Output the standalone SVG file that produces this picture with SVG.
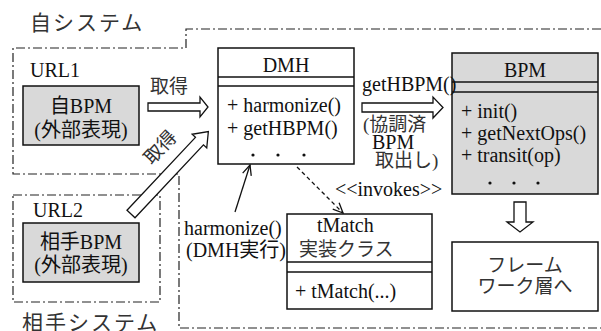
<svg xmlns="http://www.w3.org/2000/svg" width="601" height="331" viewBox="0 0 601 331" font-family="'Liberation Serif', 'DejaVu Serif', 'Noto Sans CJK JP', serif">
<style>
text{fill:#111;font-size:20px}
.jp{font-size:19px;fill:#333}
.sys{font-size:21px;letter-spacing:2px;fill:#333}
.dd{fill:none;stroke:#222;stroke-width:1.2;stroke-dasharray:9 3 2 3}
.box{fill:#fff;stroke:#111;stroke-width:1.5}
.gbox{fill:#d9d9d9;stroke:#111;stroke-width:1.5}
.blk{fill:#fff;stroke:#111;stroke-width:1.3}
.ln{stroke:#111;stroke-width:1.3;fill:none}
.dot{fill:#111}
</style>
<defs>
<marker id="v" markerWidth="12" markerHeight="10" refX="11" refY="5" orient="auto" markerUnits="userSpaceOnUse">
<path d="M1,0.5 L11,5 L1,9.5" fill="none" stroke="#111" stroke-width="1.3"/>
</marker>
</defs>

<g id="boundaries">
<path class="dd" d="M601,29 H186 V48 H13 V174 H179 V328 H601"/>
<rect class="dd" x="13" y="195" width="147" height="107"/>
<text class="sys" x="30" y="30">自システム</text>
<text class="sys" x="22" y="330">相手システム</text>
<text x="30" y="77" font-size="19">URL1</text>
<text x="33" y="217" font-size="19">URL2</text>
</g>

<g id="selfBPM">
<rect class="gbox" x="23" y="86" width="116" height="59"/>
<text x="81" y="113" text-anchor="middle" font-size="19">自BPM</text>
<text x="81" y="137" text-anchor="middle" font-size="19">(外部表現)</text>
</g>

<g id="otherBPM">
<rect class="gbox" x="23" y="223" width="116" height="59"/>
<text x="81" y="249" text-anchor="middle" font-size="19">相手BPM</text>
<text x="81" y="272" text-anchor="middle" font-size="19">(外部表現)</text>
</g>

<g id="DMH">
<rect class="box" x="218" y="48" width="136" height="116"/>
<line class="ln" x1="218" y1="77" x2="354" y2="77"/>
<line class="ln" x1="218" y1="86" x2="354" y2="86"/>
<text x="286" y="72" text-anchor="middle">DMH</text>
<text x="227" y="112">+ harmonize()</text>
<text x="227" y="135">+ getHBPM()</text>
<circle class="dot" cx="253" cy="155" r="1.6"/>
<circle class="dot" cx="278" cy="155" r="1.6"/>
<circle class="dot" cx="304" cy="155" r="1.6"/>
</g>

<g id="BPM">
<rect class="gbox" x="452" y="53" width="146" height="141"/>
<line class="ln" x1="452" y1="82" x2="598" y2="82"/>
<line class="ln" x1="452" y1="92" x2="598" y2="92"/>
<text x="525" y="77" text-anchor="middle">BPM</text>
<text x="461" y="118">+ init()</text>
<text x="461" y="140">+ getNextOps()</text>
<text x="461" y="162">+ transit(op)</text>
<circle class="dot" cx="490" cy="183" r="1.6"/>
<circle class="dot" cx="514" cy="183" r="1.6"/>
<circle class="dot" cx="538" cy="183" r="1.6"/>
</g>

<g id="tMatch">
<rect class="box" x="287" y="214" width="145" height="95"/>
<line class="ln" x1="287" y1="262" x2="432" y2="262"/>
<line class="ln" x1="287" y1="272" x2="432" y2="272"/>
<text x="317" y="232">tMatch</text>
<text class="jp" x="299" y="256">実装クラス</text>
<text x="295" y="298">+ tMatch(...)</text>
</g>

<g id="framework">
<rect class="box" x="452" y="242" width="146" height="69"/>
<text class="jp" x="525" y="272" text-anchor="middle">フレーム</text>
<text class="jp" x="525" y="293" text-anchor="middle">ワーク層へ</text>
</g>

<g id="connectors">
<polygon class="blk" points="148,103 200,103 200,97 208,107 200,117 200,111 148,111"/>
<text class="jp" x="150" y="93" font-size="18">取得</text>
<polygon class="blk" points="0,-5.5 100,-5.5 100,-10 113,0 100,10 100,5.5 0,5.5" transform="translate(131,214) rotate(-46.8)"/>
<text class="jp" x="165" y="152" text-anchor="middle" font-size="18" transform="rotate(-46.8 165 152)">取得</text>
<polygon class="blk" points="362,103 433,103 433,97 443,107.5 433,118 433,112 362,112"/>
<text x="362" y="91">getHBPM()</text>
<text class="jp" x="363" y="131" font-size="17">(協調済</text>
<text x="372" y="149" font-size="19">BPM</text>
<text class="jp" x="375" y="167" font-size="17">取出し)</text>
<polygon class="blk" points="514,202 526,202 526,222 533,222 520,232 507,222 514,222"/>
<line class="ln" x1="235" y1="212" x2="250" y2="165" marker-end="url(#v)"/>
<text x="184" y="235">harmonize()</text>
<text x="186" y="257">(DMH実行)</text>
<line class="ln" x1="297" y1="167" x2="343" y2="213" stroke-dasharray="4 3" marker-end="url(#v)"/>
<text x="335" y="196" font-size="17">&lt;&lt;invokes&gt;&gt;</text>
</g>
</svg>
